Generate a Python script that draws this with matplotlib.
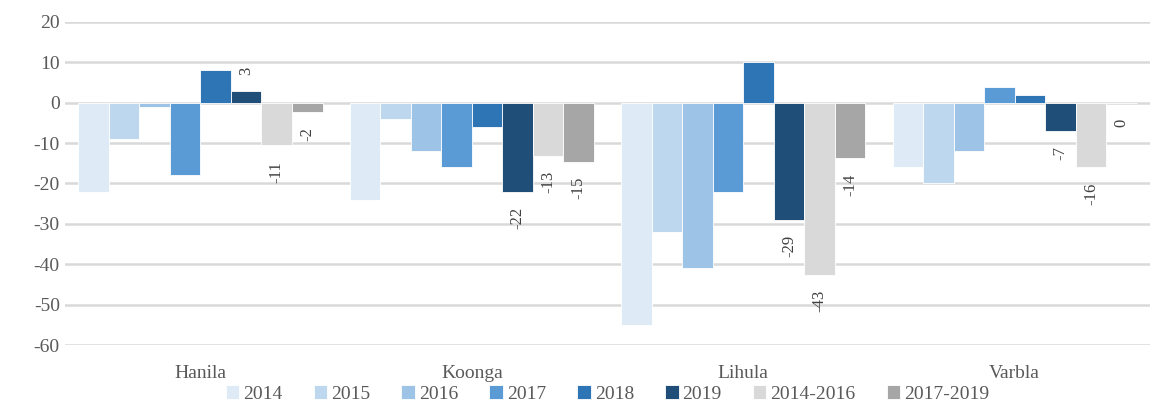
import numpy as np
import matplotlib.pyplot as plt

plt.rcParams['font.family'] = ['Liberation Serif', 'DejaVu Serif']
plt.rcParams['axes.unicode_minus'] = False

categories = ['Hanila', 'Koonga', 'Lihula', 'Varbla']
series = ['2014', '2015', '2016', '2017', '2018', '2019', '2014-2016', '2017-2019']
values = {
    '2014':      [-22, -24, -55, -16],
    '2015':      [-9, -4, -32, -20],
    '2016':      [-1, -12, -41, -12],
    '2017':      [-18, -16, -22, 4],
    '2018':      [8, -6, 10, 2],
    '2019':      [3, -22, -29, -7],
    '2014-2016': [-10.6, -13.1, -42.6, -16],
    '2017-2019': [-2.2, -14.6, -13.7, -0.2],
}
labelled = ['2019', '2014-2016', '2017-2019']
colors = ['#deebf7', '#bdd7ee', '#9dc3e6', '#5b9bd5', '#2e75b6',
          '#1f4e79', '#d9d9d9', '#a6a6a6']

grey = '#595959'
fig = plt.figure(figsize=(11.55, 4.05), dpi=100)
ax = fig.add_axes([0.056, 0.148, 0.94, 0.798])

x = np.arange(len(categories))
n = len(series)
w = 0.9 / n
for i, s in enumerate(series):
    pos = x - 0.45 + w * (i + 0.5)
    ax.bar(pos, values[s], width=w, color=colors[i],
           edgecolor='white', linewidth=0.6, zorder=3, label=s)
    if s in labelled:
        for xp, v in zip(pos, values[s]):
            txt = str(int(round(v)))
            off = 11 if v > 0 else -11
            ax.annotate(txt, (xp, v), xytext=(0, off), textcoords='offset points',
                        rotation=90, ha='center',
                        va='bottom' if v > 0 else 'top',
                        fontsize=12, color='#404040')

ax.set_ylim(-60, 20)
ax.set_xlim(-0.5, 3.5)
ax.set_yticks(range(-60, 21, 10))
ax.yaxis.grid(True, color='#d9d9d9', linewidth=1.8, zorder=0)
ax.set_axisbelow(True)
for sp in ax.spines.values():
    sp.set_visible(False)
ax.set_xticks(x)
ax.set_xticklabels(categories)
ax.tick_params(axis='both', length=0, labelsize=14, labelcolor=grey)
ax.tick_params(axis='x', pad=14)

ax.legend(loc='center', bbox_to_anchor=(0.5, -0.152), ncol=8,
          frameon=False, fontsize=14, handlelength=0.7, handleheight=0.7,
          handletextpad=0.2, columnspacing=1.6, labelcolor=grey,
          borderaxespad=0, borderpad=0)

plt.savefig('out.png', dpi=100)
